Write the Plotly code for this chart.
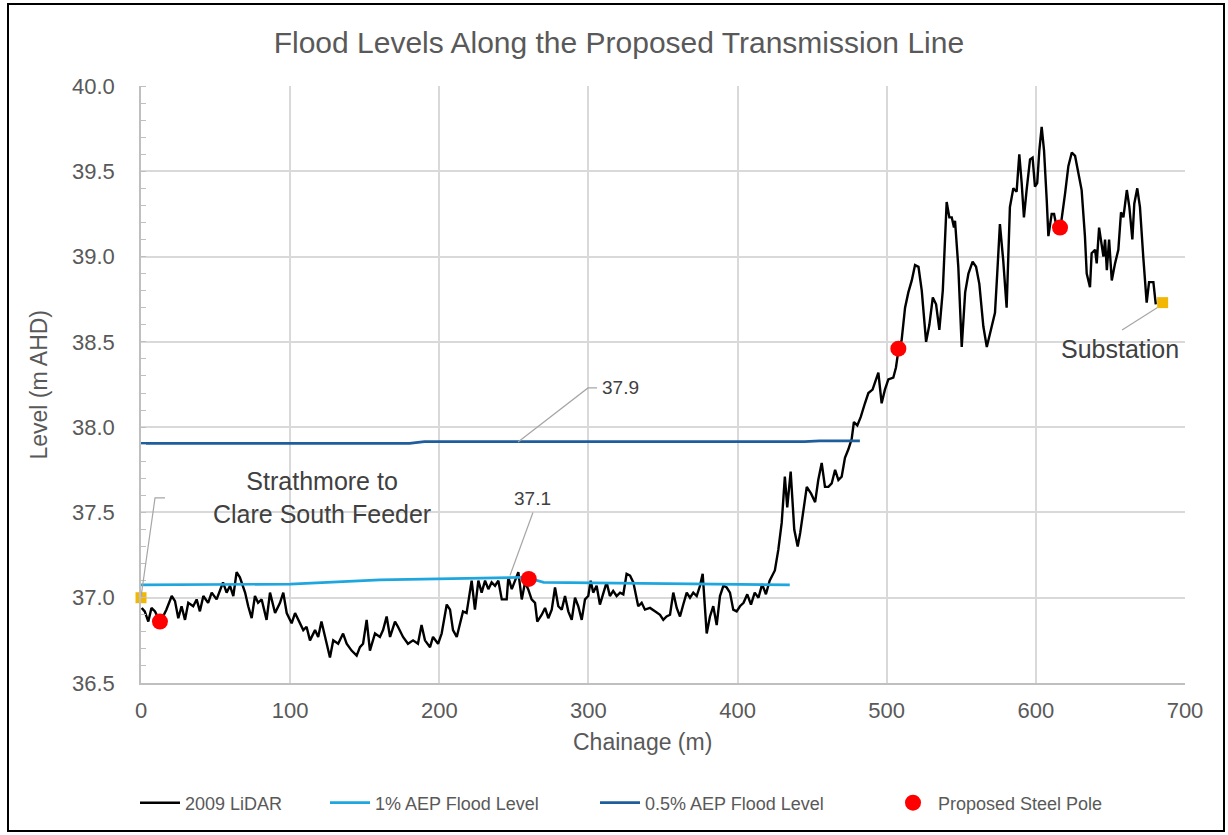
import plotly.graph_objects as go

# Ground profile from 2009 LiDAR survey (chainage m, level m AHD)
lidar_x = [
    0.5, 2.5, 4.9, 7.0, 9.4, 12.7, 14.8, 17.0, 20.6, 22.8, 25.0, 27.2, 29.5, 31.7, 35.0, 37.3, 39.5,
    41.8, 45.0, 47.4, 50.7, 53.0, 55.0, 57.4, 59.7, 61.9, 64.1, 66.3, 69.8, 71.9, 74.2, 76.4, 78.5,
    80.9, 84.2, 86.5, 89.9, 93.2, 95.4, 97.7, 101.0, 103.3, 106.6, 108.8, 111.0, 113.3, 116.7, 118.8,
    121.0, 123.4, 126.7, 128.9, 132.2, 135.5, 137.9, 141.2, 144.6, 146.8, 148.9, 151.3, 153.5, 156.9,
    160.2, 162.3, 164.7, 167.0, 170.3, 172.3, 175.7, 179.0, 182.4, 185.7, 188.1, 190.4, 193.8, 195.8,
    199.2, 201.6, 205.0, 207.2, 209.2, 211.7, 213.9, 215.9, 218.3, 221.7, 223.9, 226.2, 228.4, 230.7,
    232.9, 235.1, 237.4, 239.6, 241.9, 245.2, 246.3, 248.6, 250.8, 253.0, 255.3, 257.5, 259.6, 261.9,
    264.2, 265.7, 268.7, 270.9, 273.1, 275.4, 277.6, 279.8, 282.1, 284.3, 286.5, 288.8, 291.0, 293.2,
    295.5, 297.7, 299.9, 301.5, 303.2, 305.5, 307.7, 309.9, 312.2, 314.4, 316.6, 318.9, 321.2, 323.4,
    325.6, 327.9, 330.1, 333.4, 335.7, 337.9, 341.3, 344.6, 348.0, 350.2, 352.4, 354.7, 356.9, 359.2,
    361.4, 363.6, 365.9, 368.1, 370.3, 372.6, 374.8, 376.6, 378.2, 379.3, 381.5, 383.7, 386.0, 388.2,
    390.5, 392.7, 394.9, 397.1, 399.4, 401.6, 404.0, 406.5, 409.0, 411.5, 414.0, 416.5, 419.0, 421.5,
    425.0, 427.3, 429.6, 431.7, 433.3, 435.6, 438.0, 440.3, 442.0, 444.2, 446.4, 449.3, 452.0, 454.1,
    456.4, 458.6, 460.9, 463.1, 465.4, 467.6, 469.8, 472.0, 474.3, 476.5, 478.0, 480.3, 482.6, 485.4,
    487.7, 490.5, 492.8, 494.4, 496.6, 498.8, 501.1, 504.4, 506.2, 508.0, 510.0, 512.3, 514.5, 516.8,
    519.0, 521.3, 523.5, 526.4, 528.6, 530.9, 533.1, 535.3, 537.6, 540.2, 542.0, 543.6, 545.1, 545.8,
    548.0, 550.3, 552.6, 554.8, 557.6, 559.9, 562.1, 564.8, 567.1, 569.3, 572.6, 574.1, 575.9, 578.1,
    580.4, 582.6, 584.9, 587.1, 588.9, 590.5, 592.0, 593.8, 596.1, 597.8, 599.4, 600.9, 602.3, 603.9,
    605.5, 607.3, 608.4, 610.6, 612.2, 614.0, 616.2, 619.6, 621.8, 624.1, 626.3, 628.5, 630.7, 632.9,
    634.1, 636.3, 637.4, 639.7, 640.8, 642.4, 644.2, 645.3, 646.4, 647.6, 649.1, 650.9, 653.1, 655.3,
    657.1, 658.7, 661.0, 662.7, 664.7, 666.0, 668.0, 669.8, 672.0, 674.3, 675.9, 678.8, 680.4,
]
lidar_y = [
    36.94, 36.92, 36.86, 36.94, 36.92, 36.86, 36.89, 36.93, 37.01, 36.98, 36.88, 36.95, 36.87, 36.97, 36.95, 36.99, 36.92,
    37.01, 36.97, 37.03, 36.99, 37.05, 37.09, 37.03, 37.07, 37.01, 37.15, 37.12, 37.03, 36.95, 36.88, 37.01, 36.97,
    36.99, 36.87, 37.03, 36.91, 36.97, 37.03, 36.91, 36.85, 36.91, 36.85, 36.81, 36.83, 36.75, 36.81, 36.77,
    36.86, 36.77, 36.65, 36.75, 36.73, 36.79, 36.73, 36.69, 36.66, 36.71, 36.73, 36.87, 36.69, 36.79,
    36.77, 36.81, 36.89, 36.77, 36.86, 36.83, 36.77, 36.73, 36.75, 36.73, 36.84, 36.75, 36.71, 36.77,
    36.73, 36.79, 36.96, 36.93, 36.81, 36.77, 36.85, 36.92, 36.91, 37.10, 36.93, 37.10, 37.03, 37.10,
    37.05, 37.09, 37.07, 37.10, 36.99, 36.99, 37.12, 37.05, 37.10, 37.15, 36.99, 37.09, 37.05, 36.99,
    36.97, 36.86, 36.90, 36.94, 36.88, 36.93, 37.06, 36.95, 36.93, 37.01, 36.92, 36.87, 37.00, 36.95,
    36.87, 36.99, 37.01, 37.10, 37.03, 37.07, 36.96, 37.03, 37.09, 37.01, 37.04, 37.01, 37.03, 37.02,
    37.14, 37.13, 37.09, 36.95, 36.97, 36.93, 36.94, 36.92, 36.90, 36.87, 36.89, 36.90, 37.03, 36.94,
    36.89, 36.96, 37.03, 37.00, 37.03, 37.01, 37.07, 37.14, 36.91, 36.79, 36.89, 36.95, 36.84, 37.01,
    37.07, 37.06, 37.03, 36.93, 36.92, 36.95, 36.97, 37.02, 36.96, 37.03, 37.00, 37.08, 37.02, 37.10,
    37.16, 37.28, 37.44, 37.71, 37.53, 37.74, 37.40, 37.30, 37.38, 37.53, 37.65, 37.61, 37.56, 37.69,
    37.79, 37.65, 37.65, 37.67, 37.75, 37.69, 37.71, 37.82, 37.87, 37.93, 38.03, 38.01, 38.06, 38.14,
    38.20, 38.22, 38.28, 38.32, 38.14, 38.22, 38.28, 38.29, 38.35, 38.46, 38.51, 38.70, 38.79, 38.86,
    38.95, 38.94, 38.80, 38.50, 38.60, 38.76, 38.72, 38.57, 38.80, 39.32, 39.23, 39.23, 39.17, 39.21,
    38.94, 38.47, 38.79, 38.90, 38.97, 38.94, 38.84, 38.59, 38.47, 38.55, 38.67, 38.90, 39.19, 38.98,
    38.70, 39.29, 39.40, 39.38, 39.60, 39.43, 39.23, 39.39, 39.57, 39.58, 39.41, 39.43, 39.62, 39.76,
    39.62, 39.33, 39.12, 39.25, 39.25, 39.17, 39.15, 39.37, 39.53, 39.61, 39.59, 39.49, 39.39, 39.12,
    38.90, 38.82, 39.02, 39.04, 38.96, 39.17, 39.06, 39.00, 39.10, 38.92, 39.10, 38.86, 38.96, 39.04,
    39.26, 39.23, 39.39, 39.29, 39.10, 39.31, 39.40, 39.29, 39.00, 38.73, 38.85, 38.85, 38.72,
]

# Modelled flood levels
aep1_x = [0, 100, 160, 194, 245, 258, 270, 330, 400, 435]
aep1_y = [37.075, 37.08, 37.105, 37.11, 37.12, 37.12, 37.09, 37.085, 37.08, 37.075]
aep05_x = [0, 180, 190, 445, 455, 482]
aep05_y = [37.905, 37.905, 37.915, 37.915, 37.92, 37.92]

# Proposed steel pole locations
pole_x = [12.7, 260.0, 507.8, 616.2]
pole_y = [36.86, 37.11, 38.46, 39.17]

# Line end points (feeder connection and substation)
end_x = [0.0, 685.0]
end_y = [37.0, 38.73]

x_ticks = [0, 100, 200, 300, 400, 500, 600, 700]
y_ticks = [36.5, 37.0, 37.5, 38.0, 38.5, 39.0, 39.5, 40.0]

FONT = "Liberation Sans, Arial, sans-serif"
GREY_TXT = "#595959"
DARK_TXT = "#404040"
LEADER = "#a6a6a6"
W, H = 1228, 835

fig = go.Figure()
fig.add_trace(go.Scatter(x=lidar_x, y=lidar_y, mode="lines", name="2009 LiDAR",
                         line=dict(color="#000000", width=2.4), legend="legend"))
fig.add_trace(go.Scatter(x=aep1_x, y=aep1_y, mode="lines", name="1% AEP Flood Level",
                         line=dict(color="#1ea7df", width=2.7), legend="legend2"))
fig.add_trace(go.Scatter(x=aep05_x, y=aep05_y, mode="lines", name="0.5% AEP Flood Level",
                         line=dict(color="#1f5e9c", width=2.7), legend="legend3"))
fig.add_trace(go.Scatter(x=pole_x, y=pole_y, mode="markers", name="Proposed Steel Pole",
                         marker=dict(color="#ff0000", size=16, line=dict(width=0)), legend="legend4"))
fig.add_trace(go.Scatter(x=end_x, y=end_y, mode="markers", showlegend=False, cliponaxis=False,
                         marker=dict(color="#f2b705", size=11, symbol="square", line=dict(width=0))))

# Leader lines for labels
leaders = [
    [(252.8, 37.913), (299.7, 38.23), (305.8, 38.23)],
    [(247.4, 37.13), (262.8, 37.50)],
    [(0.0, 37.004), (9.4, 37.585), (16.1, 37.585)],
    [(681.3, 38.70), (657.8, 38.57)],
]
for pts in leaders:
    path = "M " + " L ".join(f"{px},{py}" for px, py in pts)
    fig.add_shape(type="path", path=path, xref="x", yref="y",
                  line=dict(color=LEADER, width=1.2), layer="above")

fig.add_annotation(x=307.8, y=38.23, text="37.9", showarrow=False, xanchor="left", yanchor="middle",
                   font=dict(family=FONT, size=19, color=DARK_TXT))
fig.add_annotation(x=262.2, y=37.58, text="37.1", showarrow=False, xanchor="center", yanchor="middle",
                   font=dict(family=FONT, size=19, color=DARK_TXT))
fig.add_annotation(x=121.4, y=37.585, text="Strathmore to<br>Clare South Feeder", showarrow=False,
                   xanchor="center", yanchor="middle",
                   font=dict(family=FONT, size=25, color=DARK_TXT), align="center")
fig.add_annotation(x=656.4, y=38.458, text="Substation", showarrow=False,
                   xanchor="center", yanchor="middle",
                   font=dict(family=FONT, size=25, color=DARK_TXT))

# Axis titles
fig.add_annotation(xref="paper", yref="paper", x=(642 - 141) / 1044, y=(683 - 742) / 597,
                   xanchor="center", yanchor="middle",
                   text="Chainage (m)", showarrow=False,
                   font=dict(family=FONT, size=23, color=GREY_TXT))
fig.add_annotation(xref="paper", yref="paper", x=(38 - 141) / 1044, y=0.5,
                   xanchor="center", yanchor="middle",
                   text="Level (m AHD)", showarrow=False, textangle=-90,
                   font=dict(family=FONT, size=23, color=GREY_TXT))

# Outer frame
fig.add_shape(type="rect", xref="paper", yref="paper",
              x0=(8 - 141) / 1044, x1=(1224 - 141) / 1044,
              y0=(683 - 831) / 597, y1=(683 - 4) / 597,
              line=dict(color="#000000", width=2), fillcolor="rgba(0,0,0,0)")


def legend_at(x_px):
    return dict(orientation="h", xref="container", yref="container",
                x=x_px / W, xanchor="left", y=1 - 803 / H, yanchor="middle",
                font=dict(family=FONT, size=18, color=GREY_TXT),
                itemwidth=40, bgcolor="rgba(0,0,0,0)")


fig.update_layout(
    width=W, height=H,
    margin=dict(l=141, r=43, t=86, b=152),
    paper_bgcolor="#ffffff", plot_bgcolor="#ffffff",
    font=dict(family=FONT, color=GREY_TXT),
    title=dict(text="Flood Levels Along the Proposed Transmission Line",
               x=0.504, xref="container", xanchor="center",
               y=1 - 42 / H, yref="container", yanchor="middle",
               font=dict(family=FONT, size=30, color=GREY_TXT)),
    showlegend=True,
    legend=legend_at(135),
    legend2=legend_at(325),
    legend3=legend_at(595),
    legend4=legend_at(888),
    xaxis=dict(range=[0, 700], tickvals=x_ticks, ticktext=[str(v) for v in x_ticks],
               showgrid=True, gridcolor="#d9d9d9", gridwidth=1.5,
               showline=True, linecolor="#bfbfbf", linewidth=1.5,
               zeroline=False, ticks="", ticklabelstandoff=7,
               tickfont=dict(family=FONT, size=22, color=GREY_TXT)),
    yaxis=dict(range=[36.5, 40.0], tickvals=y_ticks, ticktext=[f"{v:.1f}" for v in y_ticks],
               showgrid=True, gridcolor="#d9d9d9", gridwidth=1.5,
               showline=True, linecolor="#bfbfbf", linewidth=1.5,
               zeroline=False, ticks="", ticklabelstandoff=20,
               minor=dict(dtick=0.1, tick0=36.5, ticks="inside", ticklen=5,
                          tickcolor="#bfbfbf", tickwidth=1, showgrid=False),
               tickfont=dict(family=FONT, size=22, color=GREY_TXT)),
)

fig.write_html("out.html")
